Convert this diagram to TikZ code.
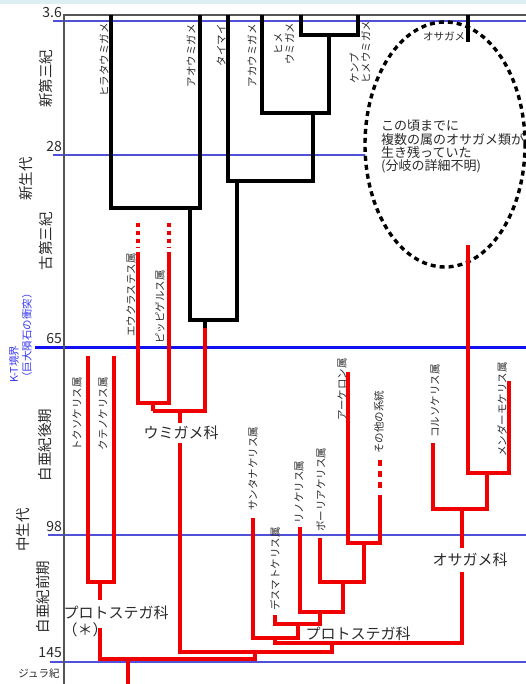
\documentclass[tikz,border=0pt]{standalone}
\usepackage{fontspec}
\setmainfont{Noto Sans CJK JP}
\usetikzlibrary{shapes.geometric}
\definecolor{tred}{HTML}{F00000}
\definecolor{tblue}{HTML}{1010F0}
\definecolor{tbluethin}{HTML}{5050D8}
\definecolor{ktblue}{HTML}{3535EE}
\definecolor{axisgray}{HTML}{555555}
\definecolor{txt}{HTML}{2A2A2A}
\definecolor{topband}{HTML}{DDEEF5}
\begin{document}
\begin{tikzpicture}[x=1pt,y=-1pt,
  blk/.style={draw=black, line width=3.3pt},
  rd/.style={draw=tred, line width=3.3pt},
  rddash/.style={rd, dash pattern=on 4.5pt off 3.5pt},
  rddash2/.style={rd, dash pattern=on 6pt off 5pt},
  bthin/.style={draw=tbluethin, line width=1.4pt},
  lbl/.style={font=\fontsize{10.5}{11.5}\selectfont, text=txt, inner sep=0pt, rotate=90},
  era/.style={font=\fontsize{14.5}{16}\selectfont, text=txt, inner sep=0pt, rotate=90},
  num/.style={font=\fontsize{14}{16}\selectfont, text=txt, inner sep=0pt, anchor=east},
  fam/.style={font=\fontsize{15}{17}\selectfont, text=txt, inner sep=1pt},
  small/.style={font=\fontsize{10.5}{12}\selectfont, text=txt, inner sep=0pt}
]
\useasboundingbox (0,0) rectangle (526,684);
\fill[topband] (0,0) rectangle (526,4);

% time lines
\draw[bthin] (53,21) -- (526,21);
\draw[bthin] (53,155) -- (526,155);
\draw[draw=tblue, line width=3.2pt] (35,347.5) -- (526,347.5);
\draw[bthin] (48,535) -- (526,535);
\draw[bthin] (50,662) -- (526,662);
\draw[axisgray, line width=1.3pt] (64,684) -- (64,15) -- (526,15);

% numbers
\node[num] (n36) at (62,13) {3.6};
\node[num] (n28) at (62,147) {28};
\node[num] (n65) at (62,339) {65};
\node[num] (n98) at (62,527) {98};
\node[num] (n145) at (62,653) {145};

% era labels
\node[era] (eNeo) at (46,79) {新第三紀};
\node[era] (eCen) at (26,179) {新生代};
\node[era] (ePal) at (46,241) {古第三紀};
\node[era] (eLK) at (45,445) {白亜紀後期};
\node[era] (eMes) at (23,530) {中生代};
\node[era] (eEK) at (43,597) {白亜紀前期};
\node[small] (eJur) at (39,674) {ジュラ紀};
\node[lbl, text=ktblue, align=left, anchor=west, font=\fontsize{10.5}{13}\selectfont] (kt) at (20.5,383) {K-T境界\\（巨大隕石の衝突）};

% dashed ellipse
\node[draw=black, fill=white, ellipse, line width=3.4pt, dash pattern=on 5pt off 4pt,
      minimum width=160pt, minimum height=245pt, inner sep=0pt] (cloud) at (445,144.5) {};
\node[font=\fontsize{13}{13.3}\selectfont, align=left, anchor=north west, inner sep=0pt, text=txt]
   (note) at (381,120) {この頃までに\\複数の属のオサガメ類が\\生き残っていた\\(分岐の詳細不明)};

% ---- black tree ----
\coordinate (tHira) at (111,15);
\coordinate (tAo) at (200,15);
\coordinate (tTai) at (228,15);
\coordinate (tAka) at (262,15);
\coordinate (tHime) at (301,15);
\coordinate (tKemp) at (358,15);
\coordinate (tOsa) at (468,15);
\coordinate (tOsaB) at (468,42);
\coordinate (j1) at (190,208);
\coordinate (j2) at (205,320);
\coordinate (j2r) at (205,328);
\coordinate (j3) at (237,181);
\coordinate (j4) at (313,113);
\coordinate (j5) at (329,35);

\draw[blk] (tHira) |- (tAo |- j1) -- (tAo);
\draw[blk] (j1) -- (j1 |- j2) -- (j3 |- j2) -- (j3);
\draw[blk] (tTai) |- (j4 |- j3) -- (j4);
\draw[blk] (tAka) |- (j5 |- j4) -- (j5);
\draw[blk] (tHime) |- (tKemp |- j5) -- (tKemp);
\draw[blk] (j2) -- (j2r);
\draw[blk] (tOsa) -- (tOsaB);

% ---- red tree ----
\coordinate (jU) at (180,411);
\coordinate (jE) at (153,403);
\coordinate (tEuk) at (138,252);
\coordinate (tEukD) at (138,223);
\coordinate (tPip) at (169,252);
\coordinate (tPipD) at (169,223);
\coordinate (jT) at (255,652);
\coordinate (jRoot) at (128,659);
\coordinate (rootEnd) at (128,684);
\coordinate (jP1) at (100,582);
\coordinate (pUp) at (100,600);
\coordinate (pLow) at (100,628);
\coordinate (tTok) at (88,356);
\coordinate (tKte) at (114,356);
\coordinate (jP2) at (332,643);
\coordinate (jS) at (275,638);
\coordinate (jOs) at (462,509);
\coordinate (tKor) at (433,443);
\coordinate (jOs2) at (487,473);
\coordinate (tMen) at (509,381);
\coordinate (tOsR) at (468,245);
\coordinate (tSan) at (253,518);
\coordinate (jD) at (298,624);
\coordinate (tDes) at (275,615);
\coordinate (jR) at (320,612);
\coordinate (tRin) at (300,527);
\coordinate (jB) at (343,582);
\coordinate (tBor) at (320,538);
\coordinate (jA) at (364,543);
\coordinate (tArc) at (348,372);
\coordinate (tOth) at (380,495);
\coordinate (tOthD) at (380,460);
\coordinate (tOthE) at (380,490);

% family labels
\node[fam] (umi) at (181,433) {ウミガメ科};
\node[fam] (proto1) at (116,613) {プロトステガ科};
\node[fam] (star) at (85,630) {（＊）};
\node[fam] (proto2) at (358,634) {プロトステガ科};
\node[fam] (osaf) at (470,560) {オサガメ科};

% Cheloniidae
\draw[rd] (tEuk) |- (tPip |- jE) -- (tPip);
\draw[rddash] (tEukD) -- (138,248);
\draw[rddash] (tPipD) -- (169,248);
\draw[rd] (jE) -- (jE |- jU);
\draw[rd] (j2r) |- (jE |- jU);
\draw[rd] (jU) -- (180,423);
\draw[rd] (180,443) |- (jP2 |- jT) -- (jP2);
\draw[rd] (jT) -- (jT |- jRoot);
% root
\draw[rd] (rootEnd) -- (jRoot);
\draw[rd] (pLow) |- (jT |- jRoot) -- (jT);
\draw[rd] (tTok) |- (tKte |- jP1) -- (tKte);
\draw[rd] (jP1) -- (pUp);
% Dermochelyidae
\draw[rd] (jS) |- (jOs |- jP2) -- (462,572);
\draw[rd] (462,548) -- (jOs);
\draw[rd] (tKor) |- (jOs2 |- jOs) -- (jOs2);
\draw[rd] (tOsR) |- (tMen |- jOs2) -- (tMen);
% Protostegidae
\draw[rd] (tSan) |- (jD |- jS) -- (jD);
\draw[rd] (tDes) |- (jR |- jD) -- (jR);
\draw[rd] (tRin) |- (jB |- jR) -- (jB);
\draw[rd] (tBor) |- (jA |- jB) -- (jA);
\draw[rd] (tArc) |- (tOth |- jA) -- (tOth);
\draw[rddash2] (tOthD) -- (tOthE);

% black-tree labels
\node[lbl, anchor=east] (lHira) at (104,23) {ヒラタウミガメ};
\node[lbl, anchor=east] (lAo) at (191,24) {アオウミガメ};
\node[lbl, anchor=east] (lTai) at (221,24) {タイマイ};
\node[lbl, anchor=east] (lAka) at (252,24) {アカウミガメ};
\node[lbl, align=center] (lHime) at (284,44) {ヒメ\\ウミガメ};
\node[lbl, align=left, anchor=west] (lKemp) at (360,84) {ケンプ\\ヒメウミガメ};
\node[small] (lOsa) at (444,36) {オサガメ};

% red-tree labels
\node[lbl, anchor=east] (lEuk) at (131,253) {エウクラステス属};
\node[lbl, anchor=east] (lPip) at (160,270) {ピッピゲルス属};
\node[lbl, anchor=east] (lTok) at (77,377) {トクソケリス属};
\node[lbl, anchor=east] (lKte) at (103,377) {クテノケリス属};
\node[lbl, anchor=west] (lSan) at (253,511) {サンタナケリス属};
\node[lbl, anchor=west] (lDes) at (275,611) {デスマトケリス属};
\node[lbl, anchor=west] (lRin) at (299,524) {リノケリス属};
\node[lbl, anchor=west] (lBor) at (321,532) {ボーリアケリス属};
\node[lbl, anchor=east] (lArc) at (342,358) {アーケロン属};
\node[lbl, anchor=west] (lOth) at (379,454) {その他の系統};
\node[lbl, anchor=west] (lKor) at (435,438) {コルソケリス属};
\node[lbl, anchor=east] (lMen) at (502,362) {メンダーモケリス属};
\end{tikzpicture}
\end{document}
